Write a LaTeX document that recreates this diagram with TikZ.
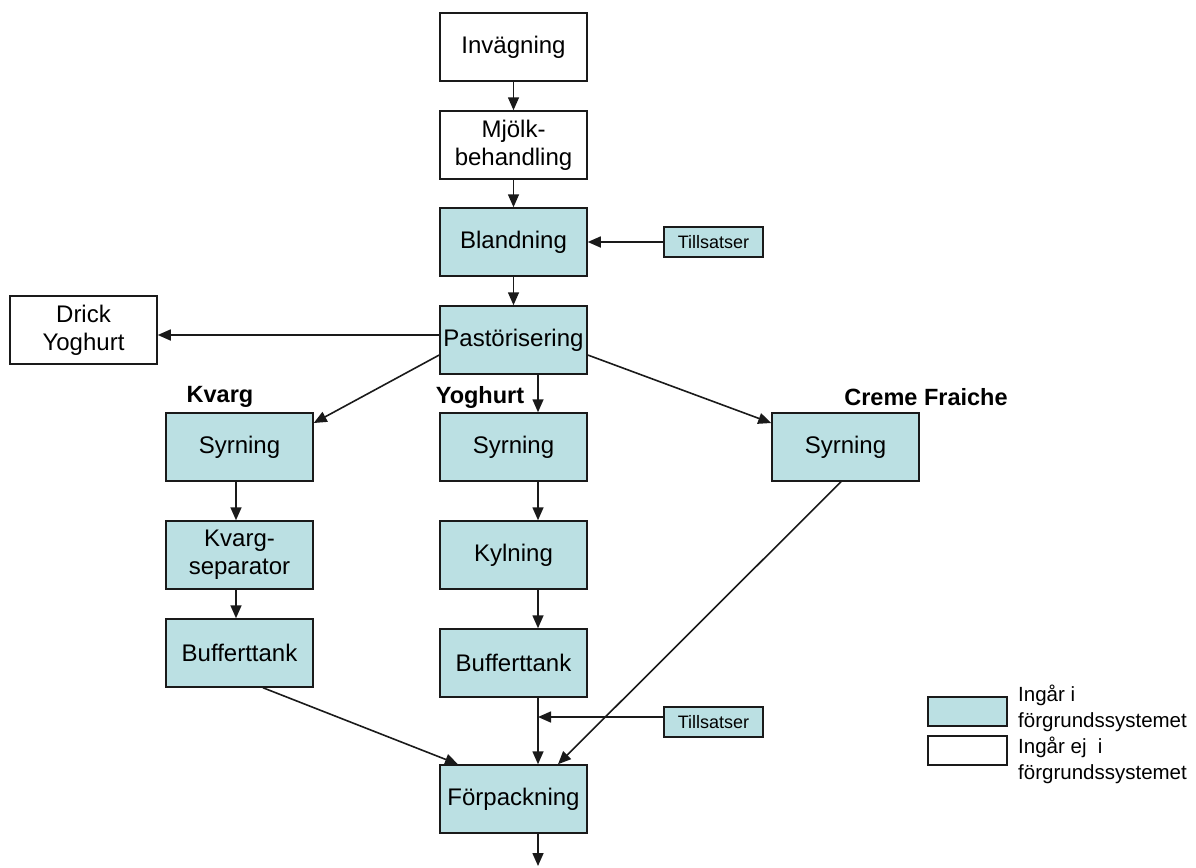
\documentclass[tikz,border=0pt]{standalone}
\usepackage{fontspec}
\setmainfont{Liberation Sans}
\usetikzlibrary{arrows.meta}
\definecolor{procfill}{HTML}{BBE0E3}
\definecolor{edge}{HTML}{1A1A1A}
\begin{document}
\begin{tikzpicture}[x=1pt,y=-1pt,
  box/.style={draw=edge, line width=1.5pt, minimum width=147pt, minimum height=68pt,
              inner sep=0pt, align=center, font=\fontsize{24}{28}\selectfont},
  procbox/.style={box, fill=procfill},
  plainbox/.style={box, fill=white},
  addbox/.style={draw=edge, line width=1.5pt, fill=procfill, minimum width=99pt,
                 minimum height=30pt, inner sep=0pt, font=\fontsize{18}{21}\selectfont},
  keybox/.style={draw=edge, line width=1.5pt, minimum width=79pt, minimum height=29pt, inner sep=0pt},
  prodlabel/.style={font=\fontsize{23.5}{27}\selectfont\bfseries, inner sep=0pt},
  keytext/.style={anchor=west, align=left, inner sep=0pt, font=\fontsize{20.5}{26}\selectfont},
  arr/.style={draw=edge, line width=1.6pt, -{Triangle[length=13pt,width=11pt]}}]
\useasboundingbox (0,0) rectangle (1196,867);

% main line
\node[plainbox] (inv)   at (513.5,47)  {Invägning};
\node[plainbox] (mjolk) at (513.5,145) {Mjölk-\\behandling};
\node[procbox]  (bland) at (513.5,242) {Blandning};
\node[addbox]   (add1)  at (713.5,242) {Tillsatser};
\node[procbox]  (past)  at (513.5,340) {Pastörisering};
\node[plainbox] (drick) at (83.5,330)  {Drick\\Yoghurt};

% product labels
\node[prodlabel] (lkvarg) at (220,397) {Kvarg};
\node[prodlabel] (lyog)   at (480,397) {Yoghurt};
\node[prodlabel] (lcreme) at (926,397) {Creme Fraiche};

% Kvarg branch
\node[procbox] (ksyr) at (239.5,447) {Syrning};
\node[procbox] (ksep) at (239.5,555) {Kvarg-\\separator};
\node[procbox] (kbuf) at (239.5,653) {Bufferttank};

% Yoghurt branch
\node[procbox] (ysyr) at (513.5,447) {Syrning};
\node[procbox] (ykyl) at (513.5,555) {Kylning};
\node[procbox] (ybuf) at (513.5,663) {Bufferttank};
\node[addbox]  (add2) at (713.5,722) {Tillsatser};

% Creme Fraiche branch
\node[procbox] (csyr) at (845.5,447) {Syrning};

% packaging
\node[procbox] (forp) at (513.5,799) {Förpackning};
\coordinate (mix) at (538,717);
\coordinate (out) at (538,866);

% connectors
\draw[arr] (inv) -- (mjolk);
\draw[arr] (mjolk) -- (bland);
\draw[arr] (add1) -- (bland);
\draw[arr] (bland) -- (past);
\draw[arr] (past.west |- 0,335) -- (drick.east |- 0,335);
\draw[arr] (past.west |- 0,355) -- (ksyr.east |- 0,423);
\draw[arr] (past.south -| 538,0) -- (ysyr.north -| 538,0);
\draw[arr] (past.east |- 0,355) -- (csyr.west |- 0,423);
\draw[arr] (ksyr.south -| 236,0) -- (ksep.north -| 236,0);
\draw[arr] (ksep.south -| 236,0) -- (kbuf.north -| 236,0);
\draw[arr] (ysyr.south -| 538,0) -- (ykyl.north -| 538,0);
\draw[arr] (ykyl.south -| 538,0) -- (ybuf.north -| 538,0);
\draw[arr] (ybuf.south -| 538,0) -- (forp.north -| 538,0);
\draw[arr] (add2.west |- mix) -- (mix);
\draw[arr] (kbuf.south -| 263,0) -- (forp.north -| 458,0);
\draw[arr] (csyr.south -| 841,0) -- (forp.north -| 558,0);
\draw[arr] (forp.south -| 538,0) -- (out);

% legend
\node[keybox, fill=procfill] (kin)  at (967.5,711.5) {};
\node[keybox, fill=white]    (kout) at (967.5,750.5) {};
\node[keytext] (tin)  at (1018,708) {Ingår i\\förgrundssystemet};
\node[keytext] (tout) at (1018,760) {Ingår ej\ \ i\\förgrundssystemet};
\end{tikzpicture}
\end{document}
